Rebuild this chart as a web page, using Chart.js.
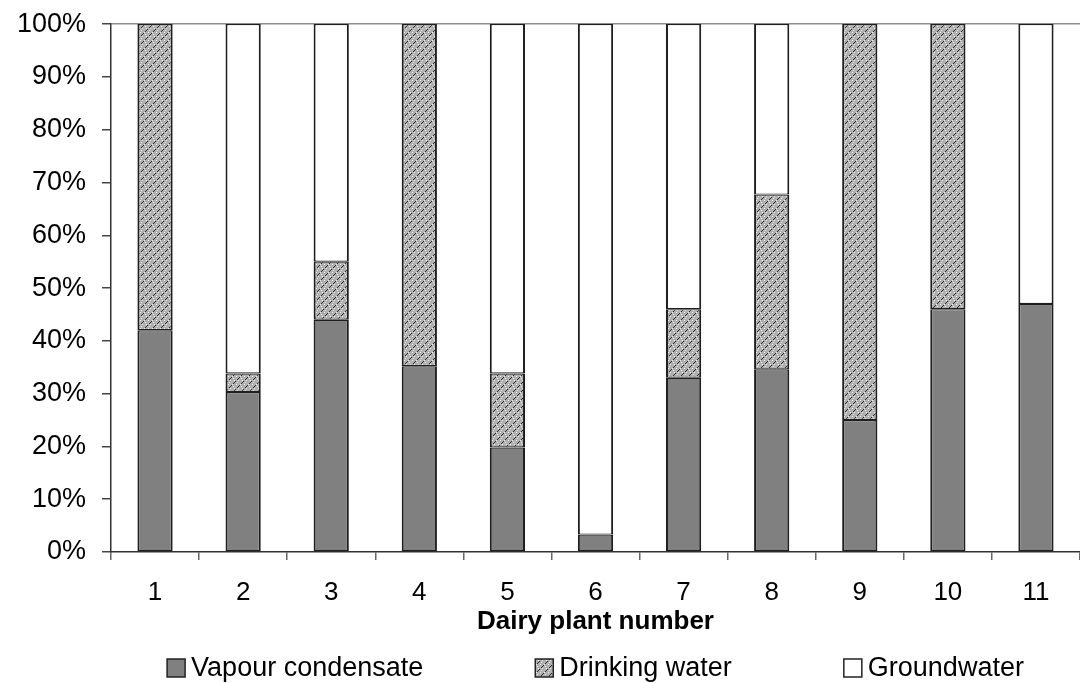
<!DOCTYPE html>
<html>
<head>
<meta charset="utf-8">
<title>Water sources by dairy plant</title>
<script src="https://cdn.jsdelivr.net/npm/chart.js@4.4.1/dist/chart.umd.min.js"></script>
<style>
  html, body { margin: 0; padding: 0; background: #fff; }
  #wrap { width: 1080px; height: 683px; position: relative; }
</style>
</head>
<body>
<div id="wrap"><canvas id="chart"></canvas></div>
<script>
// Share of each water source per dairy plant (%)
const plants = ['1', '2', '3', '4', '5', '6', '7', '8', '9', '10', '11'];
const vapourCondensate = [42, 30.3, 44, 35.2, 19.8, 3.3, 33, 34.6, 25, 46, 47];
const drinkingWater = [58, 3.5, 11, 64.8, 14, 0, 13, 33.1, 75, 54, 0];
const groundwater = [0, 66.2, 45, 0, 66.2, 96.7, 54, 32.3, 0, 0, 53];

const FONT = '"Liberation Sans", Arial, sans-serif';
Chart.defaults.font.family = FONT;
Chart.defaults.color = '#000';

/**
 * Builds the grey hatch used for drinking water
 * @returns {CanvasPattern}
 */
function makeHatch() {
    const tile = document.createElement('canvas');
    tile.width = 8;
    tile.height = 8;
    const t = tile.getContext('2d');
    t.fillStyle = '#b0b0b0';
    t.fillRect(0, 0, 8, 8);

    // light specks between the strokes
    t.fillStyle = '#ececec';
    [[0, 0], [4, 0], [2, 4], [6, 4], [1, 2], [5, 6]].forEach(([x, y]) => t.fillRect(x, y, 1, 1));

    // short dark "/" dashes
    t.fillStyle = '#2a2a2a';
    for (let i = 0; i < 3; i++) {
        t.fillRect(1 + i, 7 - i, 1, 1);
        t.fillRect(5 + i, 3 - i, 1, 1);
    }
    return t.createPattern(tile, 'repeat');
}

/**
 * Legend row drawn under the x axis title
 */
const bottomLegend = {
    id: 'bottomLegend',
    afterDraw(chart) {
        const { ctx, chartArea, scales } = chart;
        const items = chart.data.datasets.map(ds => ({
            text: ds.label,
            fill: ds.backgroundColor
        }));
        const box = 18, gap = 6, spacing = 112;

        ctx.save();
        ctx.font = `27px ${FONT}`;
        ctx.textAlign = 'left';
        ctx.textBaseline = 'middle';

        const widths = items.map(it => box + gap + ctx.measureText(it.text).width);
        const total = widths.reduce((a, b) => a + b, 0) + spacing * (items.length - 1);
        let x = (chartArea.left + chartArea.right) / 2 - total / 2;
        const y = scales.x.bottom + 28;

        items.forEach((it, i) => {
            ctx.fillStyle = it.fill;
            ctx.fillRect(x, y - box / 2, box, box);
            ctx.lineWidth = 1.5;
            ctx.strokeStyle = '#222';
            ctx.strokeRect(x, y - box / 2, box, box);
            ctx.fillStyle = '#000';
            ctx.fillText(it.text, x + box + gap, y + 1);
            x += widths[i] + spacing;
        });
        ctx.restore();
    }
};

const hatch = makeHatch();

new Chart(document.getElementById('chart'), {
    type: 'bar',
    data: {
        labels: plants,
        datasets: [
            { label: 'Vapour condensate', data: vapourCondensate, backgroundColor: '#808080' },
            { label: 'Drinking water', data: drinkingWater, backgroundColor: hatch },
            { label: 'Groundwater', data: groundwater, backgroundColor: '#ffffff' }
        ]
    },
    options: {
        responsive: true,
        maintainAspectRatio: false,
        animation: false,
        datasets: {
            bar: {
                barPercentage: 0.4,
                categoryPercentage: 1,
                borderColor: '#1e1e1e',
                // segments stack, so top/bottom edges share one line
                borderWidth: { left: 2, right: 2, top: 1.2, bottom: 1.2 },
                borderSkipped: false
            }
        },
        layout: { padding: { top: 22, right: 0, bottom: 43, left: 0 } },
        plugins: {
            legend: { display: false },
            tooltip: { enabled: false }
        },
        scales: {
            x: {
                stacked: true,
                grid: {
                    offset: true,
                    drawOnChartArea: false,
                    tickLength: 8,
                    tickColor: '#666',
                    lineWidth: 1.5
                },
                border: { color: '#333', width: 1.5 },
                ticks: { color: '#000', font: { size: 26 }, padding: 17, maxRotation: 0 },
                title: {
                    display: true,
                    text: 'Dairy plant number',
                    color: '#000',
                    font: { size: 26, weight: 'bold' },
                    padding: { top: 0, bottom: 3 }
                },
                afterFit(scale) { scale.height = 88; }
            },
            y: {
                stacked: true,
                min: 0,
                max: 100,
                ticks: {
                    stepSize: 10,
                    color: '#000',
                    // small line height keeps the top label from pushing the plot down
                    font: { size: 27, lineHeight: 0.6 },
                    padding: 16,
                    callback: v => v + '%'
                },
                grid: {
                    color: c => (c.tick && c.tick.value === 100) ? '#8c8c8c' : 'transparent',
                    tickColor: '#444',
                    tickLength: 9,
                    lineWidth: 1.5
                },
                border: { color: '#333', width: 1.5 },
                afterFit(scale) { scale.width = 111; }
            }
        }
    },
    plugins: [bottomLegend]
});
</script>
</body>
</html>
